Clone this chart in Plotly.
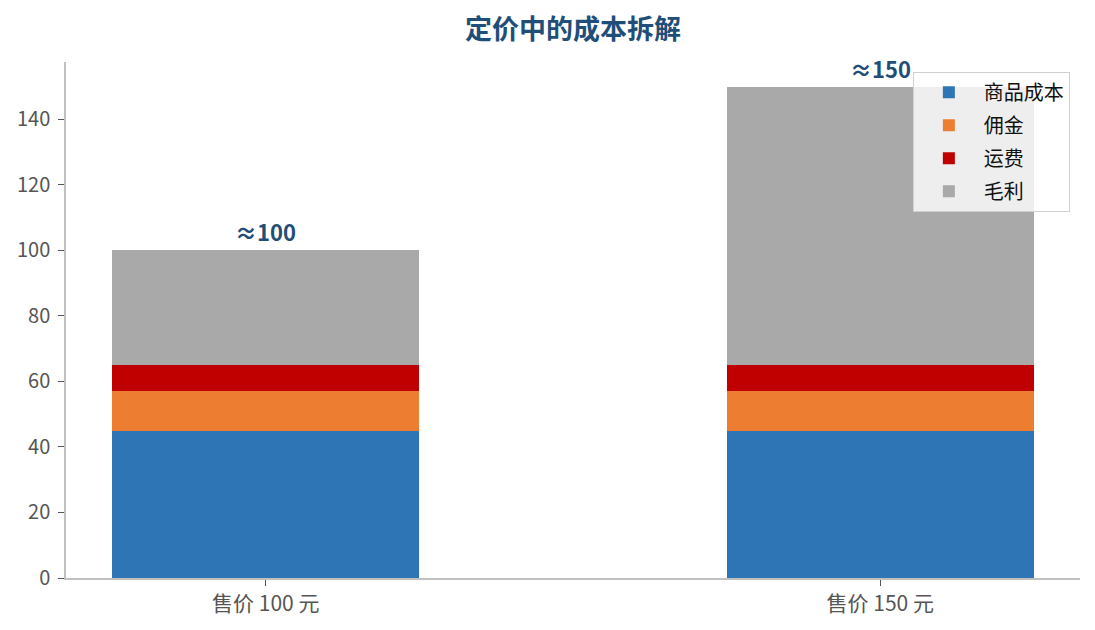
import plotly.graph_objects as go

categories = ["售价 100 元", "售价 150 元"]
series_names = ["商品成本", "佣金", "运费", "毛利"]
cost_goods = [45, 45]
commission = [12, 12]
shipping = [8, 8]
margin = [35, 85]
totals = [100, 150]
total_labels = ["≈100", "≈150"]

colors = ["#2e75b6", "#ed7d31", "#c00000", "#a9a9a9"]
FONT = "Noto Sans CJK SC"

# page body has an 8px margin, so the figure is a bit smaller than the window
W, H = 1087, 622

fig = go.Figure()
for name, vals, c in zip(series_names, [cost_goods, commission, shipping, margin], colors):
    fig.add_trace(go.Bar(x=[0, 1], y=vals, name=name, marker_color=c,
                         marker_line_width=0, width=0.5, legendgroup=name))

for i, (t, lab) in enumerate(zip(totals, total_labels)):
    fig.add_annotation(x=i, y=t, text=f"<b>{lab}</b>", showarrow=False,
                       yanchor="bottom", yshift=1,
                       font=dict(family=FONT, size=22, color="#1f4e79"))

fig.update_layout(
    width=W, height=H,
    barmode="stack",
    paper_bgcolor="white", plot_bgcolor="white",
    margin=dict(l=58, r=15, t=54, b=52),
    font=dict(family=FONT, size=20, color="#555555"),
    title=dict(text="<b>定价中的成本拆解</b>", x=0.5, xanchor="center", xref="paper",
               y=1 - 22 / H, yanchor="middle",
               font=dict(family=FONT, size=27, color="#1f4e79")),
    legend=dict(x=0.99, y=0.981, xanchor="right", yanchor="top",
                traceorder="grouped", tracegroupgap=4,
                bgcolor="rgba(255,255,255,0.8)", bordercolor="#d0d0d0",
                borderwidth=1, font=dict(family=FONT, size=20, color="#111111"),
                itemwidth=60),
    showlegend=True,
)
fig.update_xaxes(range=[-0.325, 1.325], tickvals=[0, 1], ticktext=categories,
                 showline=True, linecolor="#c0c0c0", linewidth=1.5,
                 ticks="outside", ticklen=6, tickcolor="#555555",
                 tickfont=dict(size=21), automargin=False,
                 showgrid=False, zeroline=False)
fig.update_yaxes(range=[0, 157.5], dtick=20,
                 showline=True, linecolor="#c0c0c0", linewidth=1.5,
                 ticks="outside", ticklen=6, tickcolor="#555555",
                 ticklabelstandoff=4, automargin=False,
                 showgrid=False, zeroline=False)

fig.write_html("out.html")
